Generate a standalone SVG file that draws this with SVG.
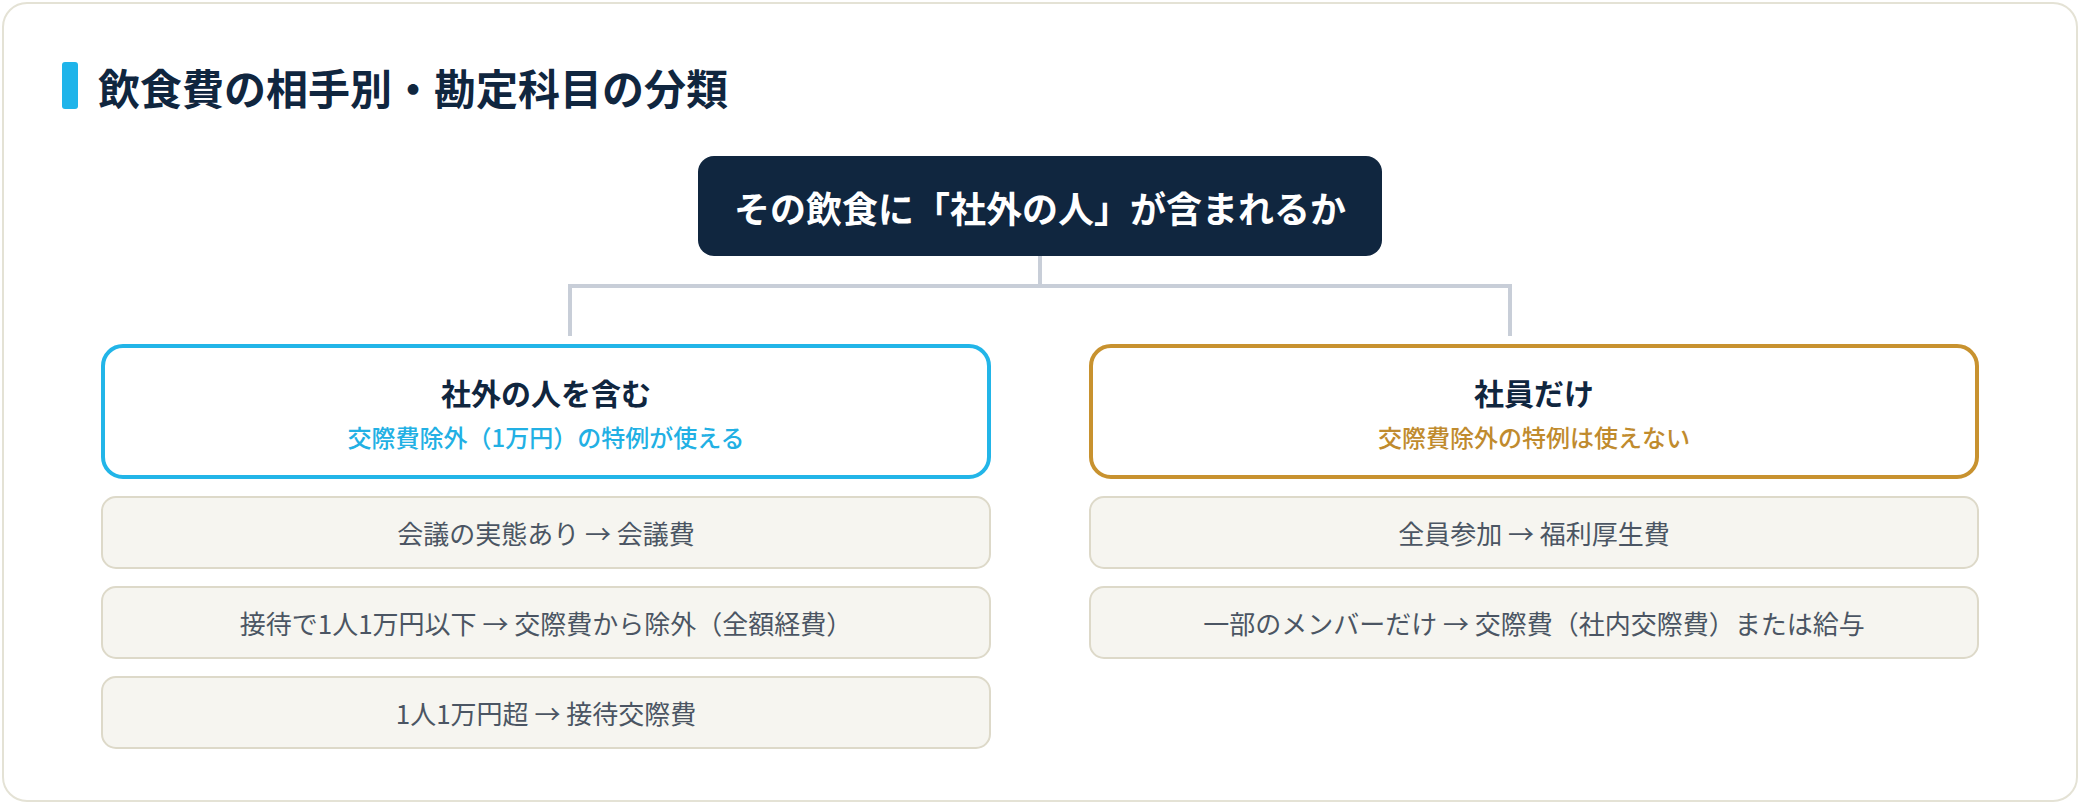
<svg xmlns="http://www.w3.org/2000/svg" width="2080" height="804" viewBox="0 0 2080 804">
  <style>
    text { font-family: "Noto Sans CJK JP", "Noto Sans", sans-serif; }
    .title { font-size: 42px; font-weight: 700; fill: #10263f; }
    .root-text { font-size: 36px; font-weight: 700; fill: #ffffff; }
    .cat-title { font-size: 30px; font-weight: 700; fill: #10263f; }
    .sub { font-size: 24px; font-weight: 500; }
    .item-box { fill: #f6f5f0; stroke: #ddd9c9; stroke-width: 2; }
    .item-text { font-size: 26px; font-weight: 400; fill: #4b5563; }
    .conn { fill: none; stroke: #c8ced8; stroke-width: 4; stroke-linejoin: miter; }
  </style>
  <rect x="0" y="0" width="2080" height="804" fill="#ffffff"/>
  <rect x="3" y="3" width="2074" height="798" rx="24" fill="#ffffff" stroke="#e4e2d5" stroke-width="2"/>

  <g id="heading">
    <rect x="62" y="62" width="16" height="47" rx="3" fill="#1fb4ea"/>
    <text class="title" x="98" y="86" dominant-baseline="central">飲食費の相手別・勘定科目の分類</text>
  </g>

  <g id="connectors">
    <path class="conn" d="M1040 256 V286 M570 336 V286 H1510 V336"/>
  </g>

  <g id="root">
    <rect x="698" y="156" width="684" height="100" rx="16" fill="#10263f"/>
    <text class="root-text" x="1040" y="207" text-anchor="middle" dominant-baseline="central">その飲食に「社外の人」が含まれるか</text>
  </g>

  <g id="external">
    <rect x="103" y="346" width="886" height="131" rx="20" fill="#ffffff" stroke="#22b5e8" stroke-width="4"/>
    <text class="cat-title" x="546" y="391.5" text-anchor="middle" dominant-baseline="central">社外の人を含む</text>
    <text class="sub" x="546" y="436" text-anchor="middle" dominant-baseline="central" fill="#22b0e4">交際費除外（1万円）の特例が使える</text>
  </g>

  <g id="external-item-1">
    <rect class="item-box" x="102" y="497" width="888" height="71" rx="14"/>
    <text class="item-text" x="546" y="532" text-anchor="middle" dominant-baseline="central">会議の実態あり → 会議費</text>
  </g>
  <g id="external-item-2">
    <rect class="item-box" x="102" y="587" width="888" height="71" rx="14"/>
    <text class="item-text" x="546" y="622" text-anchor="middle" dominant-baseline="central">接待で1人1万円以下 → 交際費から除外（全額経費）</text>
  </g>
  <g id="external-item-3">
    <rect class="item-box" x="102" y="677" width="888" height="71" rx="14"/>
    <text class="item-text" x="546" y="712" text-anchor="middle" dominant-baseline="central">1人1万円超 → 接待交際費</text>
  </g>

  <g id="internal">
    <rect x="1091" y="346" width="886" height="131" rx="20" fill="#ffffff" stroke="#c8922f" stroke-width="4"/>
    <text class="cat-title" x="1534" y="391.5" text-anchor="middle" dominant-baseline="central">社員だけ</text>
    <text class="sub" x="1534" y="436" text-anchor="middle" dominant-baseline="central" fill="#c08b2e">交際費除外の特例は使えない</text>
  </g>

  <g id="internal-item-1">
    <rect class="item-box" x="1090" y="497" width="888" height="71" rx="14"/>
    <text class="item-text" x="1534" y="532" text-anchor="middle" dominant-baseline="central">全員参加 → 福利厚生費</text>
  </g>
  <g id="internal-item-2">
    <rect class="item-box" x="1090" y="587" width="888" height="71" rx="14"/>
    <text class="item-text" x="1534" y="622" text-anchor="middle" dominant-baseline="central">一部のメンバーだけ → 交際費（社内交際費）または給与</text>
  </g>
</svg>
